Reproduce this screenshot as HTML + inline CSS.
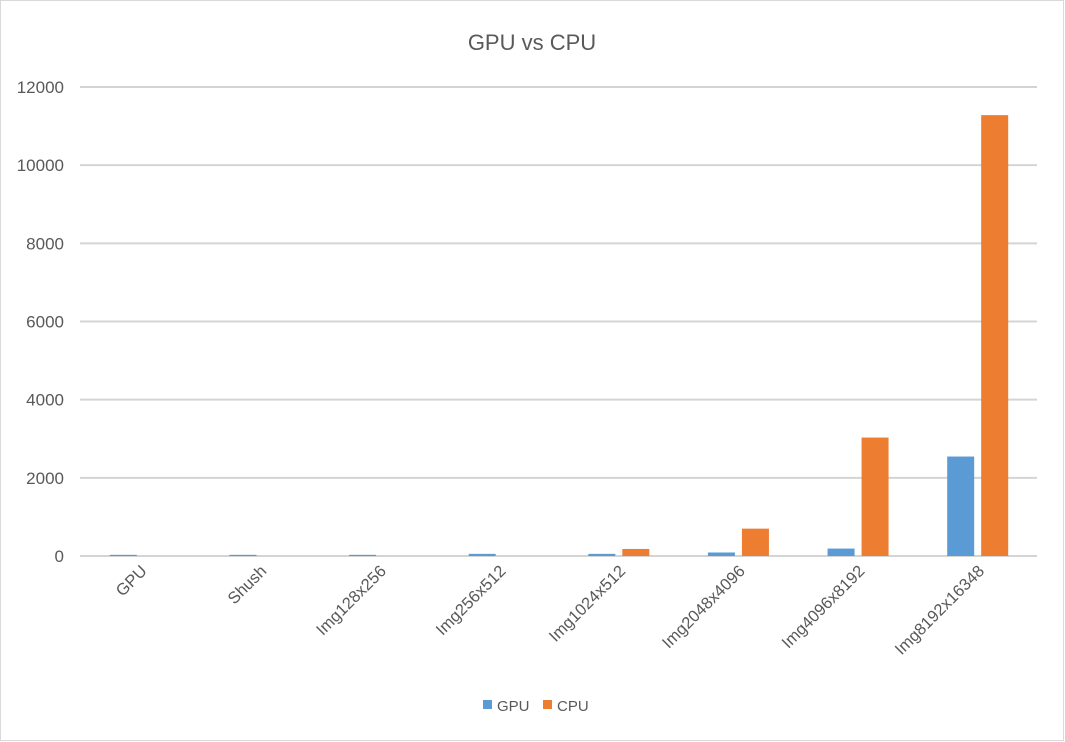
<!DOCTYPE html>
<html><head><meta charset="utf-8"><style>
body{margin:0;background:#fff}
svg{display:block;font-family:"Liberation Sans",Calibri,sans-serif}
</style></head><body>
<svg id="chart" width="1065" height="742">
<rect x="0.5" y="0.5" width="1063" height="740" fill="#fff" stroke="#d9d9d9"/>
<text x="532" y="50" text-anchor="middle" font-size="22" fill="#595959">GPU vs CPU</text>
<g id="grid"></g><g id="yticks"></g><g id="bars"></g><g id="xlabels"></g>
<g>
<g><rect x="483" y="700" width="9" height="9" fill="#5b9bd5"/><text x="497" y="711" font-size="15" fill="#595959">GPU</text></g>
<g><rect x="543" y="700" width="9" height="9" fill="#ed7d31"/><text x="557" y="711" font-size="15" fill="#595959">CPU</text></g>
</g>
</svg>
<script>
const categories=["GPU","Shush","Img128x256","Img256x512","Img1024x512","Img2048x4096","Img4096x8192","Img8192x16348"];
const gpuValues=[30,30,30,55,55,90,190,2545];
const cpuValues=[0,0,0,0,180,700,3030,11280];
const yTicks=[0,2000,4000,6000,8000,10000,12000];
const NS="http://www.w3.org/2000/svg";
const x0=80,x1=1037,yBase=556,yTop=87,yMax=12000;
const band=(x1-x0)/categories.length;
const yScale=v=>yBase-(v/yMax)*(yBase-yTop);
const xCenter=i=>x0+band*(i+0.5);
function mk(tag,attrs,parent){const e=document.createElementNS(NS,tag);for(const k in attrs)e.setAttribute(k,attrs[k]);document.getElementById(parent).appendChild(e);return e;}
yTicks.forEach(t=>{
  const y=yScale(t);
  const l=mk('line',{x1:x0,x2:x1,y1:y,y2:y,stroke:'#d4d4d4','stroke-width':2},'grid');
  
  
  const tx=mk('text',{x:64,y:y+6,'text-anchor':'end','font-size':17,fill:'#595959'},'yticks');
  tx.textContent=t;
  
  
});
categories.forEach((c,i)=>{
  const cx=xCenter(i);
  const g=gpuValues[i],p=cpuValues[i];
  const b1=mk('rect',{x:cx-30,y:yScale(g),width:27,height:yBase-yScale(g),fill:'#5b9bd5'},'bars');
  
  
  const b2=mk('rect',{x:cx+4,y:yScale(p),width:27,height:yBase-yScale(p),fill:'#ed7d31'},'bars');
  
  
  const lx=cx+8,ly=572;
  const t=mk('text',{x:lx,y:ly,'text-anchor':'end','font-size':16.5,fill:'#595959',transform:'rotate(-45 '+lx+' '+ly+')'},'xlabels');
  t.textContent=c;
  
  
});
</script>
</body></html>
